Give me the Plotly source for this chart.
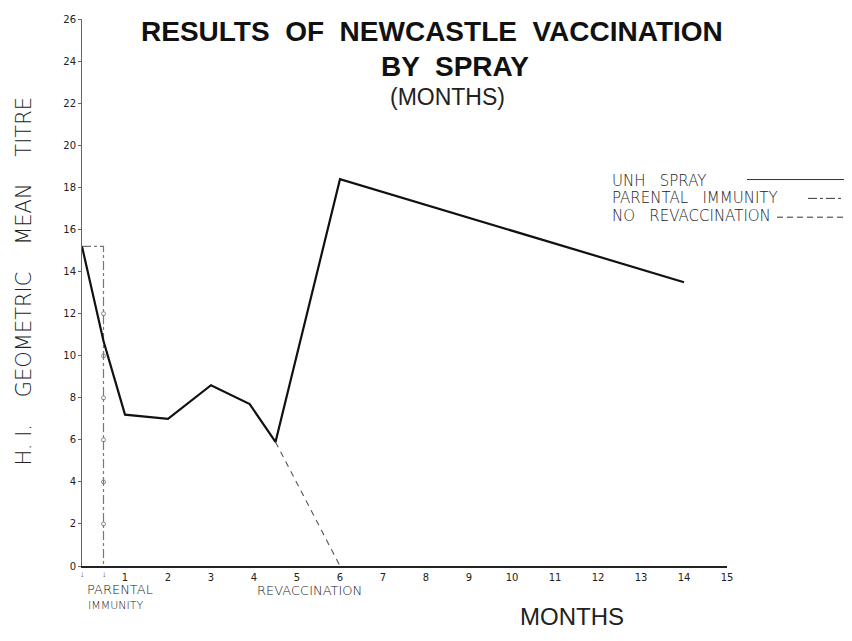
import plotly.graph_objects as go

# UNH spray series (months, H.I. geometric mean titre)
spray_months = [0, 0.5, 1, 2, 3, 3.9, 4.5, 6, 14]
spray_titre = [15.2, 10.7, 7.2, 7.0, 8.6, 7.7, 5.9, 18.4, 13.5]

# Parental immunity outline
parental_months = [0, 0.5, 0.5]
parental_titre = [15.2, 15.2, 0]
parental_mark_titre = [2, 4, 6, 8, 10, 12]

# No revaccination projection
norevac_months = [4.5, 6]
norevac_titre = [5.9, 0]

x_ticks = list(range(1, 16))
y_ticks = list(range(0, 27, 2))

# page body has an 8px margin; work in reference-image pixels and shift
OFF = 8
W, H = 844, 633
L, R, T, B = 74, 125, 6, 75
pw, ph = W - L - R, H - T - B

def fx(x):
    return (x - OFF - L) / pw

def fy(y):
    return (H - B - (y - OFF)) / ph

fig = go.Figure()
fig.add_trace(go.Scatter(x=parental_months, y=parental_titre, mode="lines",
                         line=dict(color="#777", width=1.2, dash="dashdot"),
                         showlegend=False, hoverinfo="skip"))
fig.add_trace(go.Scatter(x=[parental_months[-1]] * len(parental_mark_titre), y=parental_mark_titre,
                         mode="markers",
                         marker=dict(symbol="circle-open", size=4, color="#888", line=dict(width=1)),
                         showlegend=False, hoverinfo="skip"))
fig.add_trace(go.Scatter(x=norevac_months, y=norevac_titre, mode="lines",
                         line=dict(color="#555", width=1.1, dash="6px,5px"),
                         showlegend=False))
fig.add_trace(go.Scatter(x=spray_months, y=spray_titre, mode="lines",
                         line=dict(color="#111", width=2.2),
                         showlegend=False))

tick_font = dict(family="DejaVu Sans", size=10, color="#222")
fig.update_xaxes(range=[0, 15], tickvals=x_ticks, ticktext=[str(v) for v in x_ticks],
                 showgrid=False, zeroline=False, showline=True, linecolor="#222", linewidth=2,
                 ticks="", tickfont=tick_font, ticklabelstandoff=1)
fig.update_yaxes(range=[0, 26.02], tickvals=y_ticks, ticktext=[str(v) for v in y_ticks],
                 showgrid=False, zeroline=False, showline=True, linecolor="#666", linewidth=1,
                 ticks="outside", ticklen=3, tickcolor="#666", tickfont=tick_font)

sans = "Liberation Sans"
thin = dict(family="DejaVu Sans", color="#222", weight=200)
ann = []
ann.append(dict(text="RESULTS  OF  NEWCASTLE  VACCINATION", x=fx(432), y=fy(27),
                font=dict(family=sans, size=28, color="#111", weight="bold")))
ann.append(dict(text="BY  SPRAY", x=fx(455), y=fy(62),
                font=dict(family=sans, size=28, color="#111", weight="bold")))
ann.append(dict(text="(MONTHS)", x=fx(447), y=fy(93),
                font=dict(family=sans, size=23, color="#222")))
ann.append(dict(text="H. I.    GEOMETRIC    MEAN    TITRE", x=fx(24), y=fy(279), textangle=-90,
                font=dict(size=21, **thin)))
ann.append(dict(text="MONTHS", x=fx(572), y=fy(617),
                font=dict(family=sans, size=24, color="#222")))
ann.append(dict(text="PARENTAL", x=fx(85), y=fy(590), xanchor="left", font=dict(size=13, **thin)))
ann.append(dict(text="IMMUNITY", x=fx(86), y=fy(606), xanchor="left", font=dict(size=11, **thin)))
ann.append(dict(text="REVACCINATION", x=fx(255), y=fy(591), xanchor="left", font=dict(size=13, **thin)))
ann.append(dict(text="↓", x=0, y=fy(574), xref="x", font=dict(size=8, color="#333")))
ann.append(dict(text="↓", x=0.5, y=fy(574), xref="x", font=dict(size=8, color="#333")))
legend_items = [("UNH   SPRAY", 177), ("PARENTAL   IMMUNITY", 195), ("NO   REVACCINATION", 213)]
for label, yy in legend_items:
    ann.append(dict(text=label, x=fx(610), y=fy(yy), xanchor="left", font=dict(size=15, **thin)))
for a in ann:
    a.setdefault("xref", "paper")
    a.setdefault("xanchor", "center")
    a.update(yref="paper", yanchor="middle", showarrow=False)

shapes = [
    dict(type="line", xref="paper", yref="paper", x0=fx(747), x1=fx(847), y0=fy(176), y1=fy(176),
         line=dict(color="#333", width=1)),
    dict(type="line", xref="paper", yref="paper", x0=fx(808), x1=fx(847), y0=fy(195), y1=fy(195),
         line=dict(color="#333", width=1, dash="dashdot")),
    dict(type="line", xref="paper", yref="paper", x0=fx(777), x1=fx(847), y0=fy(214), y1=fy(214),
         line=dict(color="#333", width=1, dash="6px,4px")),
]

fig.update_layout(width=W, height=H, margin=dict(l=L, r=R, t=T, b=B),
                  paper_bgcolor="white", plot_bgcolor="white",
                  annotations=ann, shapes=shapes, showlegend=False)
fig.write_html("out.html")
